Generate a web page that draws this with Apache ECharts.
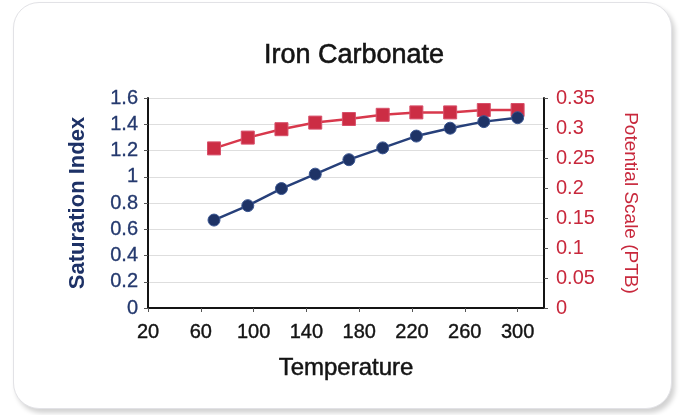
<!DOCTYPE html>
<html>
<head>
<meta charset="utf-8">
<script src="https://cdn.jsdelivr.net/npm/echarts@6/dist/echarts.min.js"></script>
<style>
  html, body { margin: 0; padding: 0; background: #ffffff; }
  #card { position: absolute; left: 13px; top: 2px; width: 657px; height: 405px;
          border-radius: 26px; border: 1px solid #e2e2e6; background: #ffffff;
          box-shadow: 3px 4px 5px rgba(0,0,0,0.18); }
  #chart { position: absolute; left: 0; top: 0; width: 680px; height: 415px; }
</style>
</head>
<body>
<div id="card"></div>
<div id="chart"></div>
<script>
const title = 'Iron Carbonate';
const xName = 'Temperature';
const leftName = 'Saturation Index';
const rightName = 'Potential Scale (PTB)';
const temperatures = [70, 95.6, 121.1, 146.7, 172.2, 197.8, 223.3, 248.9, 274.4, 300];
const saturationIndex = [0.67, 0.78, 0.91, 1.02, 1.13, 1.22, 1.31, 1.37, 1.42, 1.45];
const potentialScale = [0.266, 0.284, 0.298, 0.309, 0.315, 0.322, 0.326, 0.326, 0.330, 0.330];

const font = "'Liberation Sans', Arial, sans-serif";
const black = '#141414';
const navy = '#24396e';
const red = '#c8283c';
const chart = echarts.init(document.getElementById('chart'));
chart.setOption({
  backgroundColor: 'transparent',
  animation: false,
  textStyle: { fontFamily: font },
  title: {
    text: title, left: 349, textAlign: 'center', top: 37,
    textStyle: { fontFamily: font, fontSize: 27, fontWeight: 'normal', color: black,
                 textBorderColor: black, textBorderWidth: 0.6 }
  },
  grid: { left: 148, right: 136, top: 98, bottom: 107 },
  xAxis: {
    type: 'value', min: 20, max: 320, interval: 40,
    name: xName, nameLocation: 'middle', nameGap: 48,
    nameTextStyle: { fontFamily: font, fontSize: 24, color: black,
                     textBorderColor: black, textBorderWidth: 0.5 },
    axisLine: { show: true, onZero: false, lineStyle: { color: black, width: 2 } },
    axisTick: { show: true, length: 4, lineStyle: { color: '#555555' } },
    axisLabel: { showMaxLabel: false, fontFamily: font, fontSize: 20, color: black, margin: 14,
                 textBorderColor: black, textBorderWidth: 0.4 },
    splitLine: { show: false }
  },
  yAxis: [
    {
      type: 'value', min: 0, max: 1.6, interval: 0.2, position: 'left',
      name: leftName, nameLocation: 'middle', nameGap: 59, nameRotate: 90,
      nameTextStyle: { fontFamily: font, fontSize: 22, fontWeight: 'bold', color: '#1d3166' },
      axisLine: { show: true, lineStyle: { color: black, width: 2 } },
      axisTick: { show: true, length: 4, lineStyle: { color: '#555555' } },
      axisLabel: { fontFamily: font, fontSize: 20, color: navy, margin: 10,
                   textBorderColor: navy, textBorderWidth: 0.3 },
      splitLine: { show: true, lineStyle: { color: '#dedede', width: 1 } }
    },
    {
      type: 'value', min: 0, max: 0.35, interval: 0.05, position: 'right',
      name: rightName, nameLocation: 'middle', nameGap: 77, nameRotate: -90,
      nameTextStyle: { fontFamily: font, fontSize: 19, color: red },
      axisLine: { show: true, lineStyle: { color: black, width: 2 } },
      axisTick: { show: true, length: 4, lineStyle: { color: '#555555' } },
      axisLabel: { fontFamily: font, fontSize: 20, color: red, margin: 12 },
      splitLine: { show: false }
    }
  ],
  series: [
    {
      name: rightName, type: 'line', yAxisIndex: 1,
      data: temperatures.map((t, i) => [t, potentialScale[i]]),
      symbol: 'rect', symbolSize: 13,
      lineStyle: { color: '#d8384c', width: 2.5 },
      itemStyle: { color: '#cc2d44', borderColor: '#d8506a', borderWidth: 1 },
      z: 3
    },
    {
      name: leftName, type: 'line', yAxisIndex: 0,
      data: temperatures.map((t, i) => [t, saturationIndex[i]]),
      symbol: 'circle', symbolSize: 12,
      lineStyle: { color: '#27407a', width: 2.5 },
      itemStyle: { color: '#1e3366', borderColor: '#3a5590', borderWidth: 1 },
      z: 4
    }
  ]
});
</script>
</body>
</html>
